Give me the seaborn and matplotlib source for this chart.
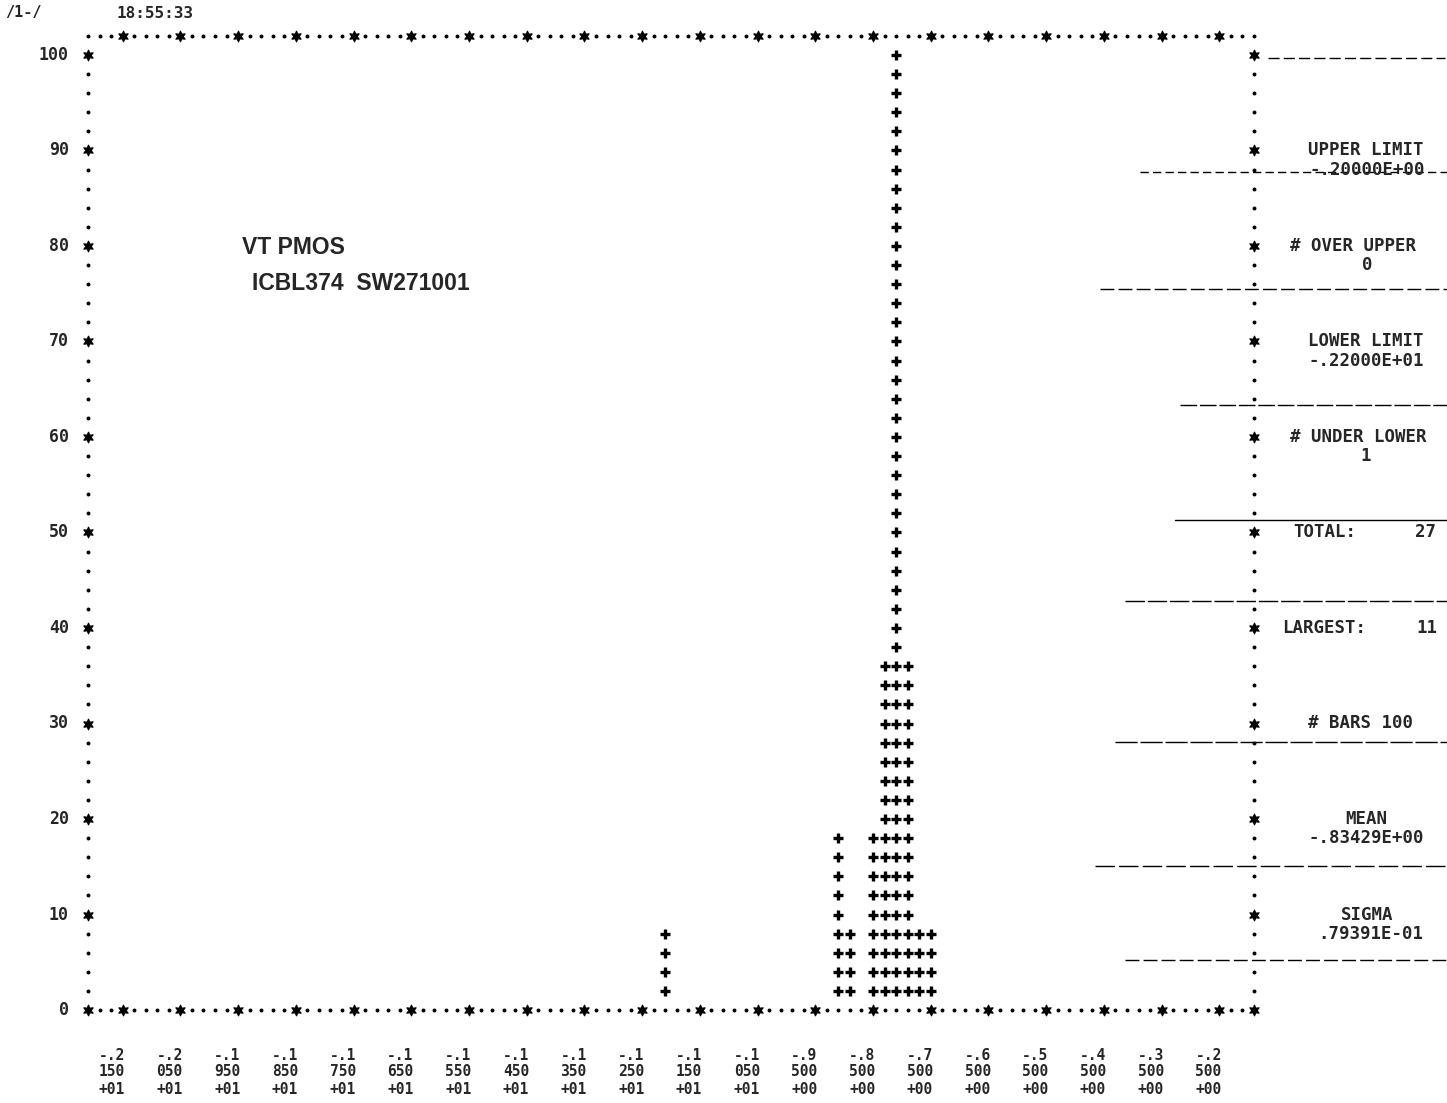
import numpy as np
import pandas as pd
import matplotlib
matplotlib.use("Agg")
import matplotlib.pyplot as plt
import matplotlib.transforms as mtransforms
import seaborn as sns

# ---------------- data ----------------
bin_values = [-1.21, -0.91, -0.89, -0.85, -0.83, -0.81, -0.79, -0.77, -0.75]
bin_counts = [1, 2, 1, 2, 4, 11, 4, 1, 1]

tick_values = [-2.15, -2.05, -1.95, -1.85, -1.75, -1.65, -1.55, -1.45, -1.35, -1.25,
               -1.15, -1.05, -0.95, -0.85, -0.75, -0.65, -0.55, -0.45, -0.35, -0.25]
tick_line1 = ["-.2", "-.2", "-.1", "-.1", "-.1", "-.1", "-.1", "-.1", "-.1", "-.1",
              "-.1", "-.1", "-.9", "-.8", "-.7", "-.6", "-.5", "-.4", "-.3", "-.2"]
tick_line2 = ["150", "050", "950", "850", "750", "650", "550", "450", "350", "250",
              "150", "050", "500", "500", "500", "500", "500", "500", "500", "500"]
tick_line3 = ["+01", "+01", "+01", "+01", "+01", "+01", "+01", "+01", "+01", "+01",
              "+01", "+01", "+00", "+00", "+00", "+00", "+00", "+00", "+00", "+00"]

y_tick_values = [0, 10, 20, 30, 40, 50, 60, 70, 80, 90, 100]
y_tick_labels = ["0", "10", "20", "30", "40", "50", "60", "70", "80", "90", "100"]

lower_limit = -2.2
upper_limit = -0.2
n_bars = 100
n_rows = 50
largest = 11
total = 27
over_upper = 0
under_lower = 1
mean_text = "-.83429E+00"
sigma_text = ".79391E-01"
upper_text = "-.20000E+00"
lower_text = "-.22000E+01"
title_line1 = "VT PMOS"
title_line2 = "ICBL374  SW271001"
header_left = "/1-/"
header_time = "18:55:33"

# ---------------- figure ----------------
sns.set_style("white")
W, H = 1447, 1103
fig = plt.figure(figsize=(W / 100, H / 100), dpi=100)
ax = fig.add_axes([0, 0, 1, 1])
fig.patch.set_facecolor("white")

MONO = "DejaVu Sans Mono"
bin_width = (upper_limit - lower_limit) / n_bars
row_step = 100 / n_rows

# histogram "+" characters built from the counts
pts = []
for v, c in zip(bin_values, bin_counts):
    rows = int(np.floor(c / largest * n_rows + 1e-9))
    for r in range(1, rows + 1):
        pts.append({"value": v, "pct": r * row_step})
df = pd.DataFrame(pts)
sns.scatterplot(data=df, x="value", y="pct", marker="+", color="black",
                s=60, linewidth=2.4, ax=ax, legend=False)

# frame made of printer characters
col_centers = [lower_limit + bin_width * (k + 0.5) for k in range(-1, n_bars + 1)]
left_col = col_centers[0]
right_col = col_centers[-1]
tick_cols = set(np.round(tick_values, 4))

dot_x, dot_y, star_x, star_y = [], [], [], []
top_y = 100 + row_step
for x in col_centers:
    if round(x, 4) in tick_cols:
        star_x.append(x); star_y.append(top_y)
    else:
        dot_x.append(x); dot_y.append(top_y)
for i, x in enumerate(col_centers):
    if round(x, 4) in tick_cols or i == 0 or i == len(col_centers) - 1:
        star_x.append(x); star_y.append(0)
    else:
        dot_x.append(x); dot_y.append(0)
for side in (left_col, right_col):
    for r in range(1, n_rows + 1):
        yv = r * row_step
        if round(yv) % 10 == 0:
            star_x.append(side); star_y.append(yv)
        else:
            dot_x.append(side); dot_y.append(yv)

ax.scatter(dot_x, dot_y, marker="o", s=8, color="black", linewidths=0)
ax.scatter(star_x, star_y, marker=(6, 1, 0), s=60, color="black", linewidths=0.8,
           edgecolors="black")

# axes scales (pixel-matched)
px_per_unit = (1254 - 88) / (right_col - left_col)
ax.set_xlim(left_col - 88 / px_per_unit, right_col + (W - 1254) / px_per_unit)
py_per_unit = (1010 - 55) / 100
ax.set_ylim(-(H - 1010) / py_per_unit, 1010 / py_per_unit)
ax.axis("off")

blend = mtransforms.blended_transform_factory(ax.transAxes, ax.transData)
blend_x = mtransforms.blended_transform_factory(ax.transData, ax.transAxes)
def fx(px):
    return px / W
def fy(py):
    return 1 - py / H

# y tick labels
for v, lab in zip(y_tick_values, y_tick_labels):
    ax.text(fx(69), v, lab, transform=blend, ha="right", va="center",
            family=MONO, fontweight="bold", fontsize=12)

# x tick labels (three printed lines each)
for v, l1, l2, l3 in zip(tick_values, tick_line1, tick_line2, tick_line3):
    for py, t in zip((1055, 1072, 1090), (l1, l2, l3)):
        ax.text(v + 0.004, fy(py), t, transform=blend_x,
                ha="right", va="center", family=MONO, fontweight="bold", fontsize=10.5)

# header
ax.text(fx(5), fy(13), header_left, transform=ax.transAxes, ha="left", va="center",
        family=MONO, fontweight="bold", fontsize=11)
ax.text(fx(117), fy(13), header_time, transform=ax.transAxes, ha="left", va="center",
        family=MONO, fontweight="bold", fontsize=11.5)

# title
ax.text(fx(242), fy(248), title_line1, transform=ax.transAxes, ha="left", va="center",
        family="Liberation Sans", fontweight="bold", fontsize=16.5)
ax.text(fx(252), fy(283), title_line2, transform=ax.transAxes, ha="left", va="center",
        family="Liberation Sans", fontweight="bold", fontsize=16.5)

# statistics block on the right
def stat(px, yv, text, ha="center"):
    ax.text(fx(px), yv, text, transform=blend, ha=ha, va="center",
            family=MONO, fontweight="bold", fontsize=12.5)

stat(1366, 90, "UPPER LIMIT")
stat(1367, 88, upper_text)
stat(1353, 80, "# OVER UPPER")
stat(1367, 78, str(over_upper))
stat(1366, 70, "LOWER LIMIT")
stat(1366, 68, lower_text)
stat(1358, 60, "# UNDER LOWER")
stat(1366, 58, str(under_lower))
stat(1293, 50, "TOTAL:", ha="left")
stat(1436, 50, str(total), ha="right")
stat(1282, 40, "LARGEST:", ha="left")
stat(1437, 40, str(largest), ha="right")
stat(1360, 30, "# BARS " + str(n_bars))
stat(1366, 20, "MEAN")
stat(1366, 18, mean_text)
stat(1367, 10, "SIGMA")
stat(1371, 8, sigma_text)

# ruled lines of the printer paper (right margin)
rules = [(58, 1268, 1445, (0, (8, 3))), (172, 1140, 1447, (0, (6, 3))),
         (289, 1100, 1447, (0, (10, 3))), (405, 1180, 1447, (0, (12, 2))),
         (520, 1175, 1447, "-"), (601, 1125, 1447, (0, (14, 2))),
         (742, 1115, 1447, (0, (16, 2))), (866, 1095, 1447, (0, (14, 3))),
         (960, 1125, 1447, (0, (10, 3)))]
for py, x0, x1, ls in rules:
    ax.plot([fx(x0), fx(x1)], [fy(py), fy(py)], transform=ax.transAxes,
            color="black", lw=1.0, ls=ls)

fig.savefig("out.png", dpi=100, facecolor="white")
